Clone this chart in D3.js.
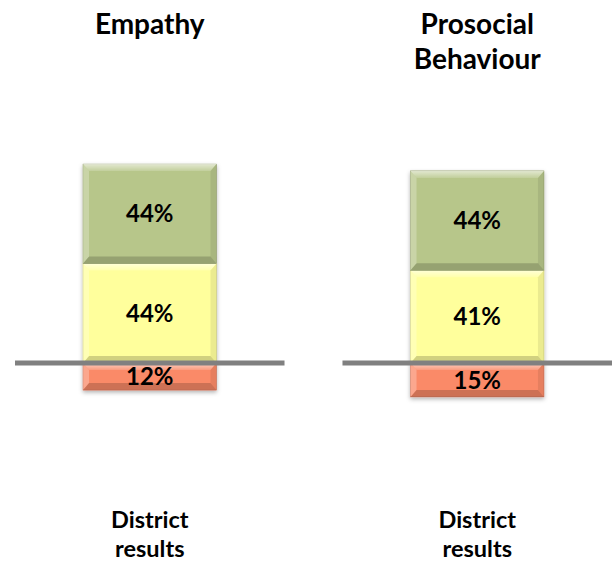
<!DOCTYPE html>
<html lang="en">
<head>
  <meta charset="UTF-8">
  <title>District results</title>
  <script src="https://d3js.org/d3.v7.min.js"></script>
  <style>
    body { margin: 0; background: #fff; font-family: Lato, "Open Sans", sans-serif; }
    text { font-weight: bold; fill: #000; }
  </style>
</head>
<body>
  <svg id="chart" width="614" height="564"></svg>
  <script>
    // Data
    const panels = ["Empathy", "Prosocial Behaviour"];
    const categories = ["District results"];
    const positive = [44, 44];   // green
    const neutral = [44, 41];    // yellow
    const negative = [12, 15];   // red, below the line

    const colors = { positive: "#b7c68a", neutral: "#ffff9c", negative: "#fa8a68" };

    const svg = d3.select("#chart");
    const defs = svg.append("defs");

    defs.append("filter").attr("id", "shadow")
      .attr("x", "-20%").attr("y", "-20%").attr("width", "140%").attr("height", "140%")
      .append("feDropShadow")
      .attr("dx", 0).attr("dy", 2).attr("stdDeviation", 2)
      .attr("flood-color", "#000").attr("flood-opacity", 0.3);

    const topGrad = defs.append("linearGradient").attr("id", "topHi")
      .attr("x1", 0).attr("y1", 0).attr("x2", 0).attr("y2", 1);
    topGrad.append("stop").attr("offset", "0%").attr("stop-color", "#fff").attr("stop-opacity", 0.6);
    topGrad.append("stop").attr("offset", "100%").attr("stop-color", "#fff").attr("stop-opacity", 0.15);

    // Scales
    const xPanel = d3.scaleBand().domain(panels).range([15, 612]).paddingInner(0.177).paddingOuter(0);
    const y = d3.scaleLinear().domain([-30, 100]).range([363 + 30 * 2.26, 363 - 100 * 2.26]);

    const titleLines = { "Empathy": ["Empathy"], "Prosocial Behaviour": ["Prosocial", "Behaviour"] };

    function bevelRect(g, x, y0, w, h, fill) {
      const b = Math.min(7, h / 3);
      const s = 6;
      const seg = g.append("g");
      seg.append("rect").attr("x", x).attr("y", y0).attr("width", w).attr("height", h)
        .attr("fill", fill).attr("stroke", d3.color(fill).darker(0.6)).attr("stroke-width", 0.6);
      const poly = (pts, f, op) => seg.append("polygon")
        .attr("points", pts.map(p => p.join(",")).join(" "))
        .attr("fill", f).attr("fill-opacity", op);
      poly([[x, y0], [x + w, y0], [x + w - s, y0 + b], [x + s, y0 + b]], "url(#topHi)", 1);
      poly([[x, y0], [x + s, y0 + b], [x + s, y0 + h - b], [x, y0 + h]], "#fff", 0.25);
      poly([[x + w, y0], [x + w - s, y0 + b], [x + w - s, y0 + h - b], [x + w, y0 + h]], "#000", 0.08);
      poly([[x, y0 + h], [x + s, y0 + h - b], [x + w - s, y0 + h - b], [x + w, y0 + h]], "#000", 0.18);
    }

    panels.forEach((panel, i) => {
      const x0 = xPanel(panel);
      const pw = xPanel.bandwidth();
      const cx = x0 + pw / 2;
      const xBar = d3.scaleBand().domain(categories).range([x0, x0 + pw]).paddingInner(0).paddingOuter(0.51);
      const bx = xBar(categories[0]);
      const bw = xBar.bandwidth();
      const g = svg.append("g");

      // Title
      titleLines[panel].forEach((t, k) => {
        g.append("text").attr("x", cx).attr("y", 34 + k * 35)
          .attr("text-anchor", "middle").style("font-size", "28px").text(t);
      });

      // Segments
      const segs = [
        { v0: 0, v1: neutral[i], c: colors.neutral, label: neutral[i] },
        { v0: neutral[i], v1: neutral[i] + positive[i], c: colors.positive, label: positive[i] },
        { v0: -negative[i], v1: 0, c: colors.negative, label: negative[i] }
      ];
      const bars = g.append("g").attr("filter", "url(#shadow)");
      segs.forEach(s => {
        bevelRect(bars, bx, y(s.v1), bw, y(s.v0) - y(s.v1), s.c);
      });
      segs.forEach(s => {
        g.append("text").attr("x", bx + bw / 2).attr("y", (y(s.v0) + y(s.v1)) / 2)
          .attr("dy", "0.36em").attr("text-anchor", "middle").style("font-size", "24px")
          .text(s.label + "%");
      });

      // Zero line
      g.append("line").attr("x1", x0).attr("x2", x0 + pw).attr("y1", y(0)).attr("y2", y(0))
        .attr("stroke", "#808080").attr("stroke-width", 5);

      // Category label
      ["District", "results"].forEach((t, k) => {
        g.append("text").attr("x", cx).attr("y", 528 + k * 29)
          .attr("text-anchor", "middle").style("font-size", "23.5px").text(t);
      });
    });
  </script>
</body>
</html>
